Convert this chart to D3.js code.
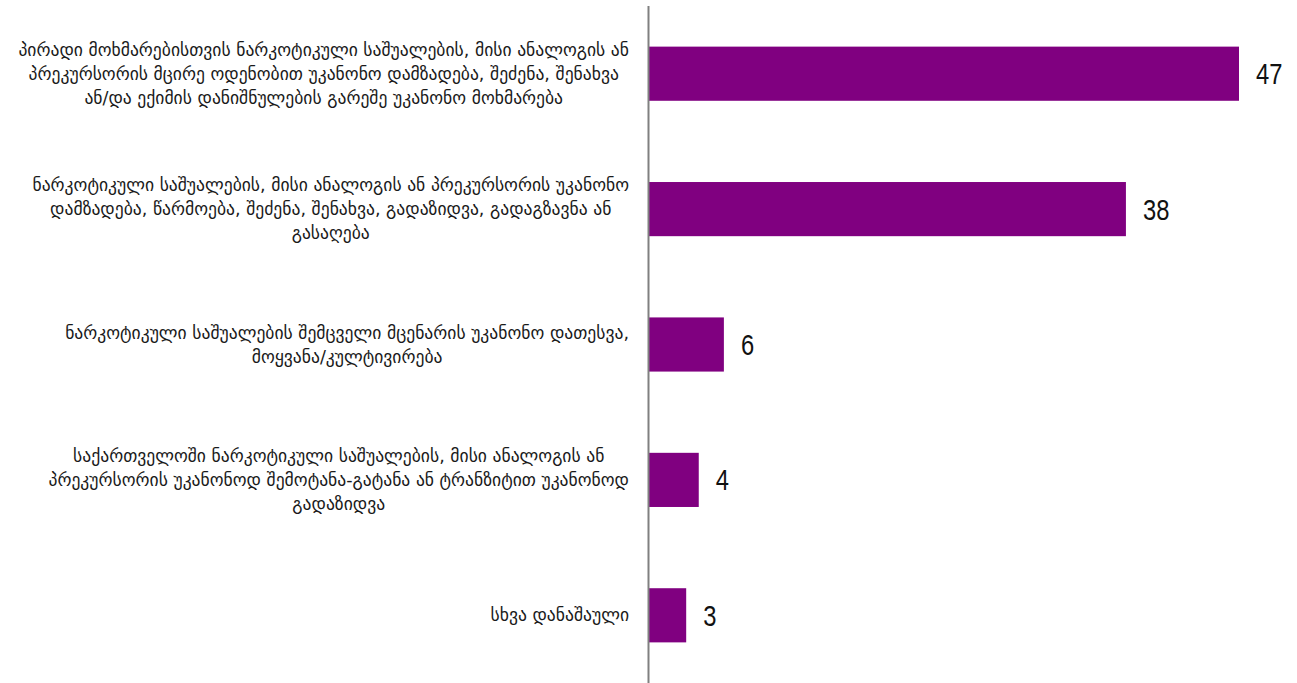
<!DOCTYPE html>
<html>
<head>
<meta charset="utf-8">
<script src="https://cdn.jsdelivr.net/npm/d3@7"></script>
<style>
  html, body { margin: 0; padding: 0; background: #fff; }
  svg { display: block; }
</style>
</head>
<body>
<svg id="chart" width="1297" height="683"></svg>
<script>
const categories = [
  "პირადი მოხმარებისთვის ნარკოტიკული საშუალების, მისი ანალოგის ან\nპრეკურსორის მცირე ოდენობით უკანონო დამზადება, შეძენა, შენახვა\nან/და ექიმის დანიშნულების გარეშე უკანონო მოხმარება",
  "ნარკოტიკული საშუალების, მისი ანალოგის ან პრეკურსორის უკანონო\nდამზადება, წარმოება, შეძენა, შენახვა, გადაზიდვა, გადაგზავნა ან\nგასაღება",
  "ნარკოტიკული საშუალების შემცველი მცენარის უკანონო დათესვა,\nმოყვანა/კულტივირება",
  "საქართველოში ნარკოტიკული საშუალების, მისი ანალოგის ან\nპრეკურსორის უკანონოდ შემოტანა-გატანა ან ტრანზიტით უკანონოდ\nგადაზიდვა",
  "სხვა დანაშაული"
];
const values = [47, 38, 6, 4, 3];

const svg = d3.select("#chart");
const axisX = 648.5;
const plotTop = 6, plotBottom = 683;
const labelRight = 629;

const x = d3.scaleLinear().domain([0, 47]).range([axisX, 1239]);
const y = d3.scaleBand().domain(d3.range(categories.length)).range([plotTop, plotBottom]).paddingInner(0.6).paddingOuter(0.3);

svg.selectAll("rect.bar")
  .data(values)
  .join("rect")
  .attr("class", "bar")
  .attr("x", x(0))
  .attr("y", (d, i) => y(i))
  .attr("width", d => x(d) - x(0))
  .attr("height", y.bandwidth())
  .attr("fill", "#800080");

svg.selectAll("text.val")
  .data(values)
  .join("text")
  .attr("class", "val")
  .attr("transform", (d, i) => `translate(${x(d) + 17},${y(i) + y.bandwidth() / 2}) scale(0.82,1)`)
  .attr("dy", "0.36em")
  .attr("font-family", "'Liberation Sans', Arial, sans-serif")
  .attr("font-size", 29)
  .attr("fill", "#111")
  .text(d => d);

const lineH = 24;
svg.selectAll("text.cat")
  .data(categories)
  .join("text")
  .attr("class", "cat")
  .attr("text-anchor", "middle")
  .attr("font-family", "'DejaVu Sans', sans-serif")
  .attr("font-size", 17.6)
  .attr("fill", "#1a1a1a")
  .each(function(d, i) {
    const lines = d.split("\n");
    const cy = y(i) + y.bandwidth() / 2;
    const startY = cy - (lines.length - 1) * lineH / 2;
    const sel = d3.select(this);
    const spans = sel.selectAll("tspan")
      .data(lines)
      .join("tspan")
      .attr("y", (l, j) => startY + j * lineH)
      .attr("dy", "0.35em")
      .text(l => l);
    let maxW = 0;
    spans.each(function() { maxW = Math.max(maxW, this.getComputedTextLength()); });
    spans.attr("x", labelRight - maxW / 2);
  });

svg.append("line")
  .attr("x1", axisX).attr("x2", axisX)
  .attr("y1", plotTop).attr("y2", plotBottom)
  .attr("stroke", "#808080")
  .attr("stroke-width", 2);
</script>
</body>
</html>
